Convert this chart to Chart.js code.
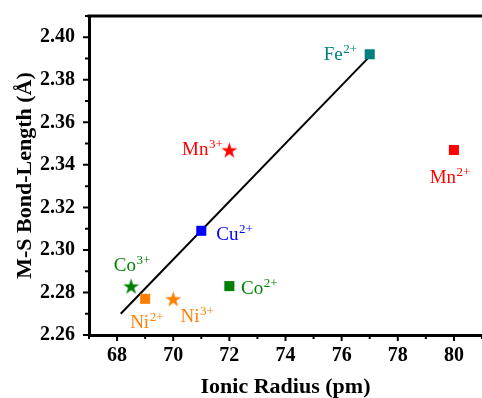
<!DOCTYPE html>
<html><head><meta charset="utf-8">
<script src="https://cdn.jsdelivr.net/npm/chart.js@4"></script>
<style>html,body{margin:0;padding:0;background:#fff}#wrap{width:482px;height:398px}</style>
</head><body><div id="wrap"><canvas id="c" width="482" height="398"></canvas></div>
<script>
// ---- data ----
const squareIons = ['Fe', 'Mn', 'Cu', 'Co', 'Ni'];
const squareCharges = ['2+', '2+', '2+', '2+', '2+'];
const squareRadius = [77, 80, 71, 72, 69];
const squareBond = [2.392, 2.347, 2.309, 2.283, 2.277];
const starIons = ['Mn', 'Co', 'Ni'];
const starCharges = ['3+', '3+', '3+'];
const starRadius = [72, 68.5, 70];
const starBond = [2.347, 2.283, 2.277];
const fitRadius = [68.13, 77];
const fitBond = [2.270, 2.391];
const xTicks = [68, 70, 72, 74, 76, 78, 80];
const yTicks = [2.26, 2.28, 2.30, 2.32, 2.34, 2.36, 2.38, 2.40];

// ---- styles ----
const FONT = '"Liberation Serif", "Times New Roman", serif';
const squareColors = ['#008080', '#ff0000', '#0000ff', '#008000', '#ff8000'];
const starColors = ['#ff0000', '#008000', '#ff8000'];
const squareLabelOffsets = [[-46, 5.7], [-24.3, 32.7], [15, 9.3], [11.7, 7.6], [-15, 29.3]];
const starLabelOffsets = [[-47.3, 5], [-17.4, -15], [7.4, 22.7]];

function starImg(color, size) {
  const c = document.createElement('canvas');
  c.width = size; c.height = size;
  const g = c.getContext('2d');
  const R = size / 2, r = R * 0.382, cy = R + R * 0.095;
  g.beginPath();
  for (let i = 0; i < 10; i++) {
    const a = -Math.PI / 2 + i * Math.PI / 5;
    const rad = i % 2 ? r : R;
    g.lineTo(R + rad * Math.cos(a), cy + rad * Math.sin(a));
  }
  g.closePath();
  g.fillStyle = color;
  g.fill();
  return c;
}

function zeroPad(s) { s.paddingTop = 0; s.paddingBottom = 0; s.paddingLeft = 0; s.paddingRight = 0; }

const decor = {
  id: 'decor',
  afterDraw(chart) {
    const {ctx, chartArea: a, scales: {x, y}} = chart;
    ctx.save();
    ctx.strokeStyle = '#000';
    // top border
    ctx.lineWidth = 3;
    ctx.beginPath();
    ctx.moveTo(a.left - 1.5, a.top);
    ctx.lineTo(a.right, a.top);
    ctx.stroke();
    // ticks
    ctx.lineWidth = 2;
    ctx.beginPath();
    for (let v = Math.ceil(x.min); v <= x.max; v++) {
      const px = x.getPixelForValue(v);
      const len = xTicks.includes(v) ? 6 : 4;
      ctx.moveTo(px, a.bottom);
      ctx.lineTo(px, a.bottom + len);
    }
    for (let k = 0; k <= 15; k++) {
      const v = Math.round((y.min + k * 0.01) * 100) / 100;
      if (v > y.max + 1e-9) break;
      const py = y.getPixelForValue(v);
      const len = yTicks.some(t => Math.abs(t - v) < 1e-9) ? 6 : 4;
      ctx.moveTo(a.left, py);
      ctx.lineTo(a.left - len, py);
    }
    ctx.stroke();
    // point labels
    const drawLabel = (ion, charge, xv, yv, off, color) => {
      const px = x.getPixelForValue(xv) + off[0];
      const py = y.getPixelForValue(yv) + off[1];
      ctx.fillStyle = color;
      ctx.textBaseline = 'alphabetic';
      ctx.textAlign = 'left';
      ctx.font = '19px ' + FONT;
      ctx.fillText(ion, px, py);
      const w = ctx.measureText(ion).width;
      ctx.font = '13px ' + FONT;
      ctx.fillText(charge, px + w + 0.5, py - 7);
    };
    squareIons.forEach((ion, i) => drawLabel(ion, squareCharges[i], squareRadius[i], squareBond[i], squareLabelOffsets[i], squareColors[i]));
    starIons.forEach((ion, i) => drawLabel(ion, starCharges[i], starRadius[i], starBond[i], starLabelOffsets[i], starColors[i]));
    ctx.restore();
  }
};

new Chart(document.getElementById('c'), {
  type: 'scatter',
  data: {
    datasets: [
      {
        label: 'fit', type: 'line', order: 3,
        data: fitRadius.map((v, i) => ({x: v, y: fitBond[i]})),
        borderColor: '#000', borderWidth: 2, pointRadius: 0, fill: false, showLine: true
      },
      {
        label: 'squares', order: 1,
        data: squareRadius.map((v, i) => ({x: v, y: squareBond[i]})),
        pointStyle: 'rect', pointRadius: 7.1, borderWidth: 0,
        backgroundColor: squareColors, borderColor: squareColors
      },
      {
        label: 'stars', order: 2,
        data: starRadius.map((v, i) => ({x: v, y: starBond[i]})),
        pointStyle: starColors.map(c => starImg(c, 17)), pointRadius: 8, borderWidth: 0,
        backgroundColor: starColors
      }
    ]
  },
  options: {
    responsive: false,
    animation: false,
    layout: {autoPadding: false, padding: {top: 16, right: 0, left: 0, bottom: 0}},
    plugins: {legend: {display: false}, tooltip: {enabled: false}},
    scales: {
      x: {
        type: 'linear', min: 67, max: 81,
        afterBuildTicks: s => { s.ticks = xTicks.map(v => ({value: v})); },
        afterFit: s => { s.height = 63; zeroPad(s); },
        grid: {display: false, drawTicks: false},
        border: {display: true, width: 3, color: '#000'},
        ticks: {color: '#000', padding: 9, font: {family: FONT, size: 20, weight: 'bold'}, callback: v => String(v)},
        title: {display: true, text: 'Ionic Radius (pm)', color: '#000', padding: {top: 0, bottom: 0},
          font: {family: FONT, size: 22, weight: 'bold', lineHeight: 1}}
      },
      y: {
        type: 'linear', min: 2.26, max: 2.41,
        afterBuildTicks: s => { s.ticks = yTicks.map(v => ({value: v})); },
        afterFit: s => { s.width = 89; zeroPad(s); },
        grid: {display: false, drawTicks: false},
        border: {display: true, width: 3, color: '#000'},
        ticks: {color: '#000', padding: 14, font: {family: FONT, size: 20, weight: 'bold'}, callback: v => v.toFixed(2)},
        title: {display: true, text: 'M-S Bond-Length (Å)', color: '#000', padding: {top: 14, bottom: 0},
          font: {family: FONT, size: 22, weight: 'bold', lineHeight: 1}}
      }
    }
  },
  plugins: [decor]
});
</script>
</body></html>
